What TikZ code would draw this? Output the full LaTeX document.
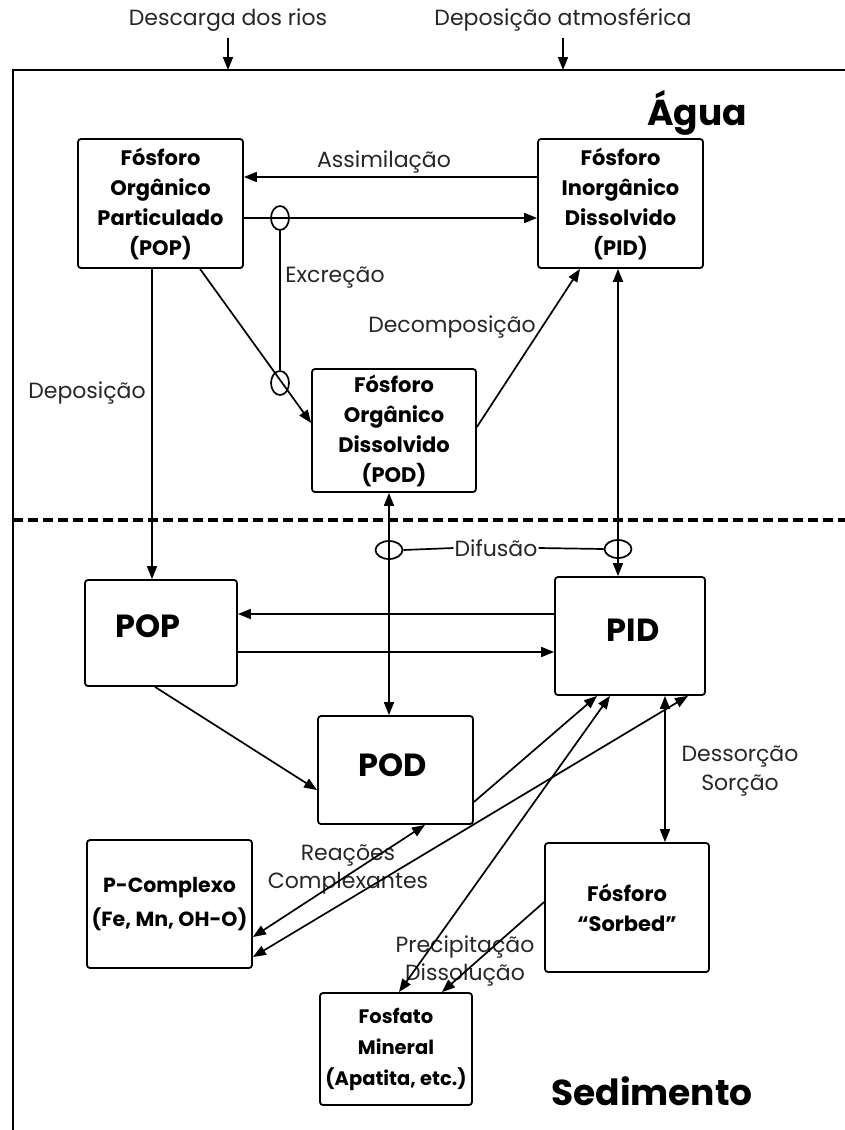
\documentclass[tikz,border=0pt]{standalone}
\usepackage{fontspec}
\setmainfont{Poppins}
\usetikzlibrary{arrows.meta,shapes.geometric,calc}
\tikzset{
  box/.style={draw, line width=1.8pt, rounded corners=3pt, inner sep=0pt, align=center,
    font=\bfseries\fontsize{21}{30}\selectfont},
  big/.style={font=\bfseries\fontsize{32}{36}\selectfont, inner sep=0pt},
  title/.style={font=\bfseries\fontsize{36}{40}\selectfont, inner sep=0pt, anchor=base},
  lbl/.style={font=\fontsize{22}{29}\selectfont, inner sep=1pt, align=center, text=black!85},
  con/.style={line width=1.7pt},
  arr/.style={con, -{Triangle[length=13pt,width=10pt]}},
  darr/.style={con, {Triangle[length=13pt,width=10pt]}-{Triangle[length=13pt,width=10pt]}},
  ell/.style={draw, ellipse, line width=1.7pt, inner sep=0pt},
}
\begin{document}
\begin{tikzpicture}[x=1pt,y=-1pt]
\useasboundingbox (0,0) rectangle (845,1130);

% frame
\draw[line width=2.5pt] (13,1130) -- (13,70) -- (845,70);
\draw[line width=4pt, dash pattern=on 10pt off 5pt] (13,520) -- (845,520);

% top labels
\node[lbl] (desc) at (228,20) {Descarga dos rios};
\node[lbl] (atm) at (563,20) {Deposição atmosférica};
\draw[arr] ([yshift=-5pt]desc.south) -- (desc.south |- 0,70);
\draw[arr] ([yshift=-5pt]atm.south) -- (atm.south |- 0,70);

% region titles
\node[title] (agua) at (697,125) {Água};
\node[title] (sed) at (652,1105) {Sedimento};

% water boxes
\node[box, minimum width=165pt, minimum height=129pt] (popW) at (160.5,203.5)
  {Fósforo\\Orgânico\\Particulado\\(POP)};
\node[box, minimum width=165pt, minimum height=129pt] (pidW) at (620.5,203.5)
  {Fósforo\\Inorgânico\\Dissolvido\\(PID)};
\node[box, minimum width=164pt, minimum height=123pt] (podW) at (394,430.5)
  {Fósforo\\Orgânico\\Dissolvido\\(POD)};

% sediment boxes
\node[box, minimum width=152pt, minimum height=106pt] (popS) at (161,633) {};
\node[box, minimum width=150pt, minimum height=118pt] (pidS) at (630,636) {};
\node[box, minimum width=155pt, minimum height=108pt] (podS) at (395.5,770) {};
\node[big] (popT) at (148,626) {POP};
\node[big] (pidT) at (633,630) {PID};
\node[big] (podT) at (393,765) {POD};

\node[box, minimum width=165pt, minimum height=128pt, font=\bfseries\fontsize{20.5}{34}\selectfont] (pcx) at (169.5,904)
  {P-Complexo\\(Fe, Mn, OH-O)};
\node[box, minimum width=164pt, minimum height=129pt, font=\bfseries\fontsize{21}{30}\selectfont] (sorb) at (627,907.5)
  {Fósforo\\“Sorbed”};
\node[box, minimum width=152pt, minimum height=112pt, font=\bfseries\fontsize{19.5}{31}\selectfont] (fosf) at (396,1049)
  {Fosfato\\Mineral\\(Apatita, etc.)};

% labels
\node[lbl] (assim) at (384,162) {Assimilação};
\node[lbl] (excr) at (335,278) {Excreção};
\node[lbl] (decomp) at (452,327) {Decomposição};
\node[lbl] (depo) at (87,393) {Deposição};
\node[lbl] (difu) at (496,548) {Difusão};
\node[lbl] (dess) at (740,771) {Dessorção\\Sorção};
\node[lbl, font=\fontsize{22}{28}\selectfont] (reac) at (348,869) {Reações\\Complexantes};
\node[lbl, font=\fontsize{22}{28}\selectfont] (prec) at (465,961) {Precipitação\\Dissolução};

% ellipses
\node[ell, minimum width=18pt, minimum height=24pt] (e1) at (280,218) {};
\node[ell, minimum width=18pt, minimum height=24pt] (e2) at (280,383) {};
\node[ell, minimum width=27pt, minimum height=18pt] (e3) at (389,550) {};
\node[ell, minimum width=27pt, minimum height=18pt] (e4) at (618,549) {};

% water connectors
\draw[arr] (pidW.west |- 0,177) -- (popW.east |- 0,177);
\draw[arr] (popW.east |- 0,218) -- (pidW.west |- 0,218);
\draw[con] (e1.south) -- (e2.north);
\draw[arr] (popW.south -| 200,0) -- (podW.west |- 0,423);
\draw[arr] (podW.east |- 0,427) -- (pidW.south -| 580,0);
\draw[arr] (popW.south -| 152,0) -- (popS.north -| 152,0);
\draw[darr] (podW.south -| 389,0) -- (podS.north -| 389,0);
\draw[darr] (pidW.south -| 618,0) -- (pidS.north -| 618,0);
\draw[con] (e3.east) -- (difu.west);
\draw[con] (difu.east) -- (e4.west);

% sediment connectors
\draw[arr] (pidS.west |- 0,614) -- (popS.east |- 0,614);
\draw[arr] (popS.east |- 0,652) -- (pidS.west |- 0,652);
\draw[arr] (popS.south -| 155,0) -- (podS.west |- 0,790);
\draw[arr] (podS.east |- 0,802) -- (pidS.south -| 597,0);
\draw[darr] (pcx.east |- 0,937) -- (podS.south -| 425,0);
\draw[darr] (pcx.east |- 0,957) -- (pidS.south -| 688,0);
\draw[darr] (fosf.north -| 399,0) -- (pidS.south -| 610,0);
\draw[arr] (sorb.west |- 0,902) -- (fosf.north -| 442,0);
\draw[darr] (pidS.south -| 665,0) -- (sorb.north -| 665,0);
\end{tikzpicture}
\end{document}
